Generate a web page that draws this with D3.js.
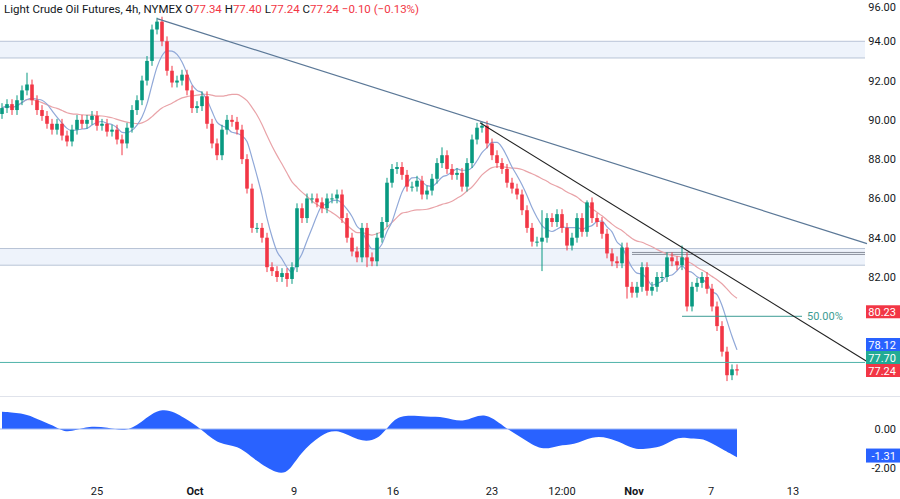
<!DOCTYPE html>
<html><head><meta charset="utf-8">
<script src="https://cdn.jsdelivr.net/npm/d3@7/dist/d3.min.js"></script>
<style>body{margin:0;background:#fff}svg{display:block;font-family:Roboto,"Noto Sans",sans-serif}</style>
</head><body><svg id="c" width="900" height="499"></svg>
<script>
const firstOpen = 90.3;
const closes = [90.6,90.8,90.5,91.0,91.5,91.8,91.0,90.5,90.2,89.8,89.5,89.8,89.2,88.9,89.5,90.0,89.8,90.0,90.2,89.7,
89.8,89.4,89.5,89.0,88.8,89.6,90.5,91.0,92.0,93.0,94.6,95.0,94.0,92.5,91.9,92.0,92.3,91.5,90.6,90.7,
91.2,89.8,88.8,88.2,89.5,90.0,89.9,89.5,88.0,86.5,84.5,84.5,84.0,82.5,82.3,82.0,82.2,81.9,82.5,85.5,
85.0,86.0,86.0,85.8,85.5,86.0,86.0,86.2,85.0,84.0,83.3,83.0,84.5,83.0,82.8,84.0,84.8,86.8,87.5,87.6,
87.2,86.6,86.6,86.9,86.2,86.4,87.0,87.8,88.2,87.5,87.2,87.3,86.6,87.8,89.0,89.6,89.7,88.8,88.2,87.8,
87.5,86.8,86.5,86.2,85.4,84.5,83.8,83.8,84.0,85.0,84.8,85.2,84.5,83.6,84.0,85.0,84.3,85.8,85.0,84.8,
84.2,83.2,82.8,82.7,83.5,81.5,81.2,81.5,82.5,81.3,81.5,82.0,82.0,83.0,82.8,82.6,83.0,80.5,81.5,81.7,
82.0,81.4,80.5,79.5,78.2,77.0,77.3,77.24];
const defaultWick = 0.25;
const extraHighs = [[5,92.4],[31,95.2],[96,89.9],[117,85.9],[136,83.6],[108,85.4],[88,88.6]];
const extraLows = [[24,88.2],[57,81.5],[73,82.5],[108,82.3],[145,76.7],[125,80.9]];
const osc = [[0,0.88],[4.6,0.8],[6.8,0.53],[10.4,0.18],[12.4,-0.18],[15,-0.05],[17.2,0.14],[21.2,0.09],[24.6,-0.14],[27.6,0.27],
[32,1.24],[36.8,0.53],[39.6,0.05],[43.6,-0.85],[47,-0.8],[50.6,-1.6],[55.2,-2.34],[57.4,-2.2],[59.6,-1.24],[63.8,-0.27],
[67.2,0.03],[71.2,-0.65],[75.2,-0.62],[78,0.44],[80.4,0.74],[85,0.62],[88.4,0.65],[92.4,0.27],[96.4,0.94],[100.4,0.09],
[104,-0.44],[108,-1.15],[111.4,-0.8],[114.2,-0.85],[118.2,-0.35],[121.2,-0.44],[124,-0.71],[126.8,-1.1],[129.8,-0.97],[132,-0.92],
[135.4,-0.35],[137.8,-0.53],[140,-0.44],[143.6,-0.97],[147,-1.45]];
const priceTicks = [96,94,92,90,88,86,84,82];
const oscTicks = [0,-2];
const timeLabels = [[19,"25"],[38.6,"Oct"],[58.4,"9"],[78.2,"16"],[98,"23"],[112,"12:00"],[126.4,"Nov"],[141.8,"7"],[158.2,"13"]];
const zones = [[94.0,93.15],[83.45,82.6]];
const trend1 = [[31,95.15],[173,83.7]];
const trend2 = [[95.6,89.85],[173,77.7]];
const level = 77.65, fib = 80.0, fibFrom = 136, fibTo = 160;
const lastLabels = [[80.23,"#f23645"],[78.12,"#2962ff"],[77.70,"#22ab94"],[77.24,"#f23645"]];
const oscLast = -1.31;

const svg = d3.select("#c");
const W = 865;
const x = d3.scaleLinear().domain([0,173]).range([2,867]);
const y = d3.scaleLinear().domain([96,82]).range([2,277]);
const yo = d3.scaleLinear().domain([0,-2]).range([429,468]);

const hiMap = new Map(extraHighs), loMap = new Map(extraLows);
const bars = closes.map((c,i)=>{const o = i? closes[i-1]:firstOpen;
  return {i,o,c,h:hiMap.get(i)??Math.max(o,c)+defaultWick,l:loMap.get(i)??Math.min(o,c)-defaultWick};});
function sma(n){return closes.map((_,i)=>{const s=closes.slice(Math.max(0,i-n+1),i+1);return d3.mean(s);});}
const ma1=sma(6), ma2=sma(22);

zones.forEach(z=>{
  svg.append("rect").attr("x",0).attr("width",W).attr("y",y(z[0])).attr("height",y(z[1])-y(z[0])).attr("fill","#eef3fb");
  z.forEach(v=>svg.append("line").attr("x1",0).attr("x2",W).attr("y1",y(v)).attr("y2",y(v)).attr("stroke","#b8c4d6").attr("stroke-width",1));
});
[83.25,83.15].forEach(v=>svg.append("line").attr("x1",x(126)).attr("x2",W).attr("y1",y(v)).attr("y2",y(v)).attr("stroke","#8a8f9c").attr("stroke-width",1));

const ln=d3.line().x((d,i)=>x(i)).y(d=>y(d)).curve(d3.curveMonotoneX);
svg.append("path").attr("d",ln(ma2)).attr("fill","none").attr("stroke","#e9a3a8").attr("stroke-width",1.2);
svg.append("path").attr("d",ln(ma1)).attr("fill","none").attr("stroke","#90a8d8").attr("stroke-width",1.2);

const g=svg.append("g");
bars.forEach(b=>{
  const col=b.c>=b.o?"#089981":"#f23645";
  g.append("line").attr("x1",x(b.i)).attr("x2",x(b.i)).attr("y1",y(b.h)).attr("y2",y(b.l)).attr("stroke",col);
  const t=y(Math.max(b.o,b.c)), bt=y(Math.min(b.o,b.c));
  g.append("rect").attr("x",x(b.i)-1.8).attr("width",3.6).attr("y",t).attr("height",Math.max(1,bt-t)).attr("fill",col);
});

svg.append("line").attr("x1",0).attr("x2",W).attr("y1",y(level)).attr("y2",y(level)).attr("stroke","#4fb3a9").attr("stroke-width",1);
svg.append("line").attr("x1",x(fibFrom)).attr("x2",x(fibTo)).attr("y1",y(fib)).attr("y2",y(fib)).attr("stroke","#3d9c94").attr("stroke-width",1);
svg.append("text").attr("x",x(fibTo)+5).attr("y",y(fib)+4).attr("fill","#3d9c94").attr("font-size",11).text("50.00%");
svg.append("line").attr("x1",x(trend1[0][0])).attr("y1",y(trend1[0][1])).attr("x2",x(trend1[1][0])).attr("y2",y(trend1[1][1])).attr("stroke","#5b7897").attr("stroke-width",1.2);
svg.append("line").attr("x1",x(trend2[0][0])).attr("y1",y(trend2[0][1])).attr("x2",x(trend2[1][0])).attr("y2",y(trend2[1][1])).attr("stroke","#222").attr("stroke-width",1.1);

const ar=d3.area().x(d=>x(d[0])).y0(yo(0)).y1(d=>yo(d[1])).curve(d3.curveBasis);
svg.append("path").attr("d",ar(osc)).attr("fill","#2962ff");
svg.append("line").attr("x1",0).attr("x2",x(147)).attr("y1",yo(0)).attr("y2",yo(0)).attr("stroke","#9fb8f5");
svg.append("line").attr("x1",0).attr("x2",900).attr("y1",396.5).attr("y2",396.5).attr("stroke","#e0e3eb");

const ax=svg.append("g").attr("font-size",11).attr("fill","#131722");
priceTicks.forEach(v=>ax.append("text").attr("x",896).attr("y",Math.max(11,y(v)+4)).attr("text-anchor","end").text(v.toFixed(2)));
oscTicks.forEach(v=>ax.append("text").attr("x",896).attr("y",yo(v)+4).attr("text-anchor","end").text(v.toFixed(2)));
// stack price labels from bottom so they don't overlap
const pos=lastLabels.map(([v,c])=>({v,c,cy:y(v)}));
for(let k=pos.length-2;k>=0;k--){ if(pos[k+1].cy-pos[k].cy<13) pos[k].cy=pos[k+1].cy-13; }
pos.forEach(p=>{
  svg.append("rect").attr("x",866).attr("y",p.cy-6.5).attr("width",34).attr("height",13).attr("fill",p.c);
  svg.append("text").attr("x",896).attr("y",p.cy+4).attr("text-anchor","end").attr("fill","#fff").attr("font-size",11).text(p.v.toFixed(2));
});
svg.append("rect").attr("x",866).attr("y",yo(oscLast)-6).attr("width",34).attr("height",14).attr("fill","#2962ff");
svg.append("text").attr("x",896).attr("y",yo(oscLast)+5).attr("text-anchor","end").attr("fill","#fff").attr("font-size",11).text(oscLast.toFixed(2));

timeLabels.forEach(([i,t])=>svg.append("text").attr("x",x(i)).attr("y",495).attr("text-anchor","middle").attr("font-size",11).attr("fill","#131722").attr("font-weight",t==="Oct"||t==="Nov"?"bold":"normal").text(t));

const h=svg.append("text").attr("x",4).attr("y",13).attr("font-size",11.5).attr("fill","#131722");
h.append("tspan").text("Light Crude Oil Futures, 4h, NYMEX  ");
[["O","77.34"],["H","77.40"],["L","77.24"],["C","77.24 −0.10 (−0.13%)"]].forEach(([k,v])=>{
  h.append("tspan").text(" "+k); h.append("tspan").attr("fill","#f23645").text(v);
});
</script></body></html>
